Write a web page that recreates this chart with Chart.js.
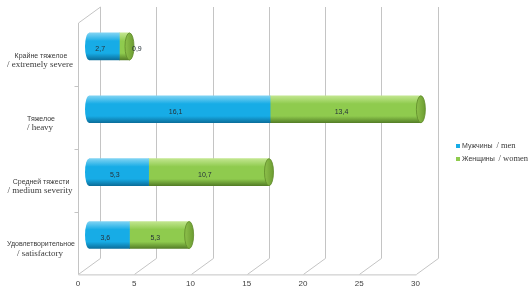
<!DOCTYPE html>
<html>
<head>
<meta charset="utf-8">
<script src="https://cdn.jsdelivr.net/npm/chart.js@4.4.1/dist/chart.umd.min.js"></script>
<style>
  html, body { margin: 0; padding: 0; background: #ffffff; }
  #wrap { width: 531px; height: 305px; }
</style>
</head>
<body>
<div id="wrap"><canvas id="c" width="531" height="305"></canvas></div>
<script>
// ---- data ----
const categoriesRu = ['Крайне тяжелое', 'Тяжелое', 'Средней тяжести', 'Удовлетворительное'];
const categoriesEn = ['/ extremely severe', '/ heavy', '/ medium severity', '/ satisfactory'];
const seriesRu = ['Мужчины', 'Женщины'];
const seriesEn = ['/ men', '/ women'];
const menValues = [2.7, 16.1, 5.3, 3.6];
const womenValues = [0.9, 13.4, 10.7, 5.3];
const xTicks = [0, 5, 10, 15, 20, 25, 30];

// ---- styling ----
const DEPTH = 11;      // half depth offset (x)
const DEPTH_Y = 8;     // half depth offset (y)
const BAR_T = 27;
const palette = [
  { light: '#7fd3f3', base: '#17ace6', dark: '#0b6f9c', cap: '#0e86b8' },
  { light: '#c2e68f', base: '#8fcb4e', dark: '#557f27', cap: '#6e9e33' }
];
const SANS = '"Liberation Sans", Arial, sans-serif';
const SERIF = '"Liberation Serif", "Times New Roman", serif';

function barGradient(ctx, y, p) {
  if (!isFinite(y)) return p.base;
  const g = ctx.createLinearGradient(0, y - BAR_T / 2, 0, y + BAR_T / 2);
  g.addColorStop(0, p.light);
  g.addColorStop(0.3, p.base);
  g.addColorStop(0.75, p.base);
  g.addColorStop(1, p.dark);
  return g;
}

function scriptedFill(c, p) {
  const ys = c.chart.scales && c.chart.scales.y;
  if (!ys || c.dataIndex === undefined) return p.base;
  return barGradient(c.chart.ctx, ys.getPixelForValue(c.dataIndex), p);
}

function fmt(v) { return String(v).replace('.', ','); }

const cylinderPlugin = {
  id: 'cyl',
  beforeDatasetsDraw(chart) {
    const ctx = chart.ctx;
    const xs = chart.scales.x, ys = chart.scales.y;
    const ca = chart.chartArea;
    const backTop = ca.top - DEPTH_Y;
    const backBottom = ca.bottom - DEPTH_Y;
    const frontBottom = ca.bottom + DEPTH_Y;
    ctx.save();
    ctx.strokeStyle = '#c4c4c4';
    ctx.lineWidth = 1;
    ctx.beginPath();
    xTicks.forEach(v => {
      const px = Math.round(xs.getPixelForValue(v)) + 0.5;
      ctx.moveTo(px + DEPTH, backTop);
      ctx.lineTo(px + DEPTH, backBottom);
      ctx.moveTo(px + DEPTH, backBottom);
      ctx.lineTo(px - DEPTH, frontBottom);
    });
    const x0 = Math.round(xs.getPixelForValue(0)) + 0.5;
    const x30 = Math.round(xs.getPixelForValue(xTicks[xTicks.length - 1])) + 0.5;
    ctx.moveTo(x0 - DEPTH, frontBottom + 0.5);
    ctx.lineTo(x30 - DEPTH, frontBottom + 0.5);
    ctx.moveTo(x0 - DEPTH, backTop + 2 * DEPTH_Y);
    ctx.lineTo(x0 - DEPTH, frontBottom);
    ctx.moveTo(x0 - DEPTH, backTop + 2 * DEPTH_Y);
    ctx.lineTo(x0 + DEPTH, backTop);
    for (let i = 1; i < categoriesRu.length; i++) {
      const yb = Math.round((ys.getPixelForValue(i - 1) + ys.getPixelForValue(i)) / 2 + DEPTH_Y) + 0.5;
      ctx.moveTo(x0 - DEPTH - 4, yb);
      ctx.lineTo(x0 - DEPTH, yb);
    }
    ctx.stroke();
    ctx.restore();
  },
  afterDatasetsDraw(chart) {
    const ctx = chart.ctx;
    const m0 = chart.getDatasetMeta(0).data;
    const m1 = chart.getDatasetMeta(1).data;
    ctx.save();
    m0.forEach(el => {
      const y = el.y, h = BAR_T / 2;
      ctx.beginPath();
      ctx.ellipse(el.base, y, 4, h, 0, Math.PI / 2, Math.PI * 1.5);
      ctx.closePath();
      ctx.fillStyle = barGradient(ctx, y, palette[0]);
      ctx.fill();
    });
    m1.forEach(el => {
      const y = el.y, h = BAR_T / 2;
      ctx.beginPath();
      ctx.ellipse(el.x, y, 4.5, h, 0, 0, Math.PI * 2);
      const g = ctx.createLinearGradient(el.x - 4, 0, el.x + 4, 0);
      g.addColorStop(0, '#8cbf4a');
      g.addColorStop(1, palette[1].cap);
      ctx.fillStyle = g;
      ctx.fill();
      ctx.strokeStyle = '#5f8a2a';
      ctx.lineWidth = 0.8;
      ctx.stroke();
    });
    ctx.font = '7px ' + SANS;
    ctx.fillStyle = '#26323a';
    ctx.textBaseline = 'middle';
    [m0, m1].forEach((els, di) => {
      const vals = di === 0 ? menValues : womenValues;
      els.forEach((el, i) => {
        const txt = fmt(vals[i]);
        const w = ctx.measureText(txt).width;
        const segW = Math.abs(el.x - el.base);
        if (w + 4 > segW) {
          ctx.textAlign = 'left';
          ctx.fillText(txt, el.x + 2.5, el.y + 3);
        } else {
          ctx.textAlign = 'center';
          ctx.fillText(txt, (el.x + el.base) / 2 - 4, el.y + 3);
        }
      });
    });
    ctx.restore();
  },
  afterDraw(chart) {
    const ctx = chart.ctx;
    const ys = chart.scales.y;
    ctx.save();
    ctx.textAlign = 'center';
    ctx.textBaseline = 'middle';
    ctx.fillStyle = '#3a3a3a';
    categoriesRu.forEach((lab, i) => {
      const y = ys.getPixelForValue(i);
      ctx.font = '7px ' + SANS;
      ctx.fillText(lab, 41, y + 9.5);
      ctx.font = '9px ' + SERIF;
      ctx.fillText(categoriesEn[i], 40, y + 18.5);
    });
    const lx = 456, ly = [146, 159];
    ctx.textAlign = 'left';
    chart.data.datasets.forEach((ds, i) => {
      ctx.fillStyle = palette[i].base;
      ctx.fillRect(lx, ly[i] - 2, 4, 4);
      ctx.fillStyle = '#3a3a3a';
      ctx.font = '7px ' + SANS;
      ctx.fillText(seriesRu[i], lx + 6, ly[i]);
      const w = ctx.measureText(seriesRu[i] + '  ').width;
      ctx.font = '8.5px ' + SERIF;
      ctx.fillText(seriesEn[i], lx + 6 + w, ly[i]);
    });
    ctx.restore();
  }
};

const ctx = document.getElementById('c').getContext('2d');
new Chart(ctx, {
  type: 'bar',
  data: {
    labels: categoriesRu,
    datasets: [
      {
        label: seriesRu[0] + ' ' + seriesEn[0],
        data: menValues,
        backgroundColor: c => scriptedFill(c, palette[0]),
        borderWidth: 0,
        barThickness: BAR_T
      },
      {
        label: seriesRu[1] + ' ' + seriesEn[1],
        data: womenValues,
        backgroundColor: c => scriptedFill(c, palette[1]),
        borderWidth: 0,
        barThickness: BAR_T
      }
    ]
  },
  options: {
    indexAxis: 'y',
    responsive: false,
    animation: false,
    devicePixelRatio: 1,
    layout: { padding: { left: 89, right: 104.5, top: 15, bottom: 3 } },
    plugins: { legend: { display: false }, tooltip: { enabled: false } },
    scales: {
      x: {
        stacked: true,
        min: 0,
        max: 30,
        afterBuildTicks: s => { s.ticks = xTicks.map(v => ({ value: v })); },
        grid: { display: false, drawTicks: false },
        border: { display: false },
        ticks: {
          font: { family: SANS, size: 8 },
          color: '#404040',
          padding: 13,
          labelOffset: -DEPTH,
          maxRotation: 0,
          autoSkip: false
        }
      },
      y: {
        stacked: true,
        display: false
      }
    }
  },
  plugins: [cylinderPlugin]
});
</script>
</body>
</html>
